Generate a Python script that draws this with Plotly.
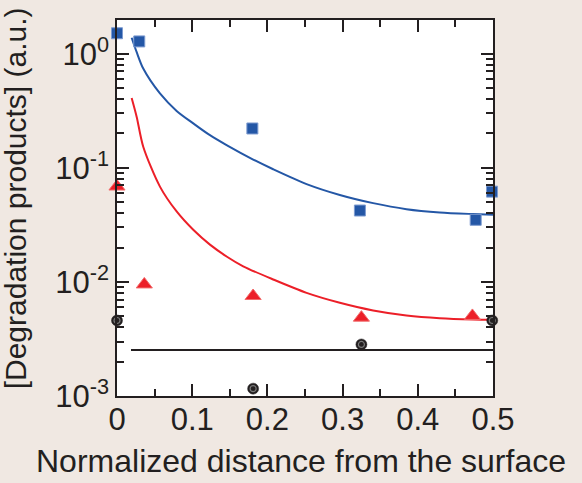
import plotly.graph_objects as go

# --- data ---
blue_x = [0.0, 0.0296, 0.180, 0.323, 0.477, 0.4987]
blue_y = [1.51, 1.28, 0.221, 0.0422, 0.035, 0.0618]

red_x = [0.0, 0.0363, 0.181, 0.325, 0.4726]
red_y = [0.0685, 0.0095, 0.00752, 0.00486, 0.00503]

black_x = [0.0, 0.181, 0.325, 0.499]
black_y = [0.00459, 0.00116, 0.00283, 0.00459]

blue_fit_x = [0.0195, 0.0262, 0.0349, 0.0571, 0.0793, 0.1014, 0.1236, 0.1457, 0.1811,
              0.2077, 0.2521, 0.2963, 0.3406, 0.3849, 0.4292, 0.4734, 0.5]
blue_fit_y = [1.38, 1.03, 0.740, 0.448, 0.315, 0.245, 0.193, 0.158, 0.118,
              0.097, 0.072, 0.0578, 0.0490, 0.0434, 0.0406, 0.0393, 0.0387]

red_fit_x = [0.0195, 0.0262, 0.0349, 0.0571, 0.0793, 0.1014, 0.1236, 0.1457, 0.1678,
             0.2077, 0.2521, 0.2963, 0.3406, 0.3849, 0.4292, 0.4734, 0.5]
red_fit_y = [0.409, 0.279, 0.153, 0.0684, 0.0414, 0.0286, 0.0212, 0.0167, 0.0137,
             0.0105, 0.00801, 0.00656, 0.00562, 0.00508, 0.00481, 0.00469, 0.00466]

black_fit_x = [0.0186, 0.5]
black_fit_y = [0.00253, 0.00253]

x_ticks = [0, 0.1, 0.2, 0.3, 0.4, 0.5]
x_ticktext = ["0", "0.1", "0.2", "0.3", "0.4", "0.5"]
y_ticks = [0.001, 0.01, 0.1, 1]
y_ticktext = ["10<sup>-3</sup>", "10<sup>-2</sup>", "10<sup>-1</sup>", "10<sup>0</sup>"]

x_title = "Normalized distance from the surface"
y_title = "[Degradation products] (a.u.)"

BLUE = "#2457a6"
RED = "#ec1f28"
INK = "#231f20"
BG = "#f0e8e2"
FONT = "Liberation Sans, Arial, sans-serif"

fig = go.Figure()

fig.add_trace(go.Scatter(x=blue_fit_x, y=blue_fit_y, mode="lines", line=dict(color=BLUE, width=2, shape="spline", smoothing=0.8)))
fig.add_trace(go.Scatter(x=red_fit_x, y=red_fit_y, mode="lines", line=dict(color=RED, width=2, shape="spline", smoothing=0.8)))
fig.add_trace(go.Scatter(x=black_fit_x, y=black_fit_y, mode="lines", line=dict(color=INK, width=2)))

fig.add_trace(go.Scatter(x=blue_x, y=blue_y, mode="markers", cliponaxis=False,
                         marker=dict(symbol="square", size=11, color=BLUE, line=dict(color="#7d9bd0", width=1))))
fig.add_trace(go.Scatter(x=red_x, y=red_y, mode="markers", cliponaxis=False,
                         marker=dict(symbol="triangle-up", size=14, color=RED, line=dict(color="#f26a6a", width=1))))
fig.add_trace(go.Scatter(x=black_x, y=black_y, mode="markers", cliponaxis=False,
                         marker=dict(symbol="circle", size=11, color=INK, line=dict(color=INK, width=0.5))))
fig.add_trace(go.Scatter(x=black_x, y=black_y, mode="markers", cliponaxis=False,
                         marker=dict(symbol="circle-open", size=6, color="#7a7a7a", line=dict(color="#7a7a7a", width=1.2))))

axis_common = dict(showline=True, linecolor=INK, linewidth=1.5, mirror="ticks",
                   ticks="inside", tickcolor=INK, tickwidth=1.5, ticklen=12,
                   showgrid=False, zeroline=False, automargin=False,
                   tickfont=dict(family=FONT, size=31, color=INK))

fig.update_xaxes(range=[0, 0.5], tickvals=x_ticks, ticktext=x_ticktext, ticklabelstandoff=-5,
                 minor=dict(ticks="inside", ticklen=7, tickwidth=1.5, tickcolor=INK,
                            tickvals=[0.05, 0.15, 0.25, 0.35, 0.45]),
                 **axis_common)

minor_y = [m * 10 ** e for e in (-3, -2, -1) for m in range(2, 10)]
fig.update_yaxes(type="log", range=[-3, 0.295], tickvals=y_ticks, ticktext=y_ticktext,
                 minor=dict(ticks="inside", ticklen=7, tickwidth=1.5, tickcolor=INK, tickvals=minor_y),
                 **axis_common)

fig.add_annotation(text=x_title, xref="paper", yref="paper", x=0.49, y=-0.173,
                   xanchor="center", yanchor="middle", showarrow=False,
                   font=dict(family=FONT, size=32, color=INK))
fig.add_annotation(text=y_title, xref="paper", yref="paper", x=-0.27, y=0.527,
                   xanchor="center", yanchor="middle", showarrow=False, textangle=-90,
                   font=dict(family=FONT, size=30, color=INK))

fig.update_layout(width=582, height=483, showlegend=False,
                  margin=dict(l=117, r=89, t=20, b=87),
                  paper_bgcolor=BG, plot_bgcolor="white")

fig.write_html("out.html", config={"displayModeBar": False},
               post_script="document.body.style.margin='0px';document.body.style.background='%s';" % BG)
